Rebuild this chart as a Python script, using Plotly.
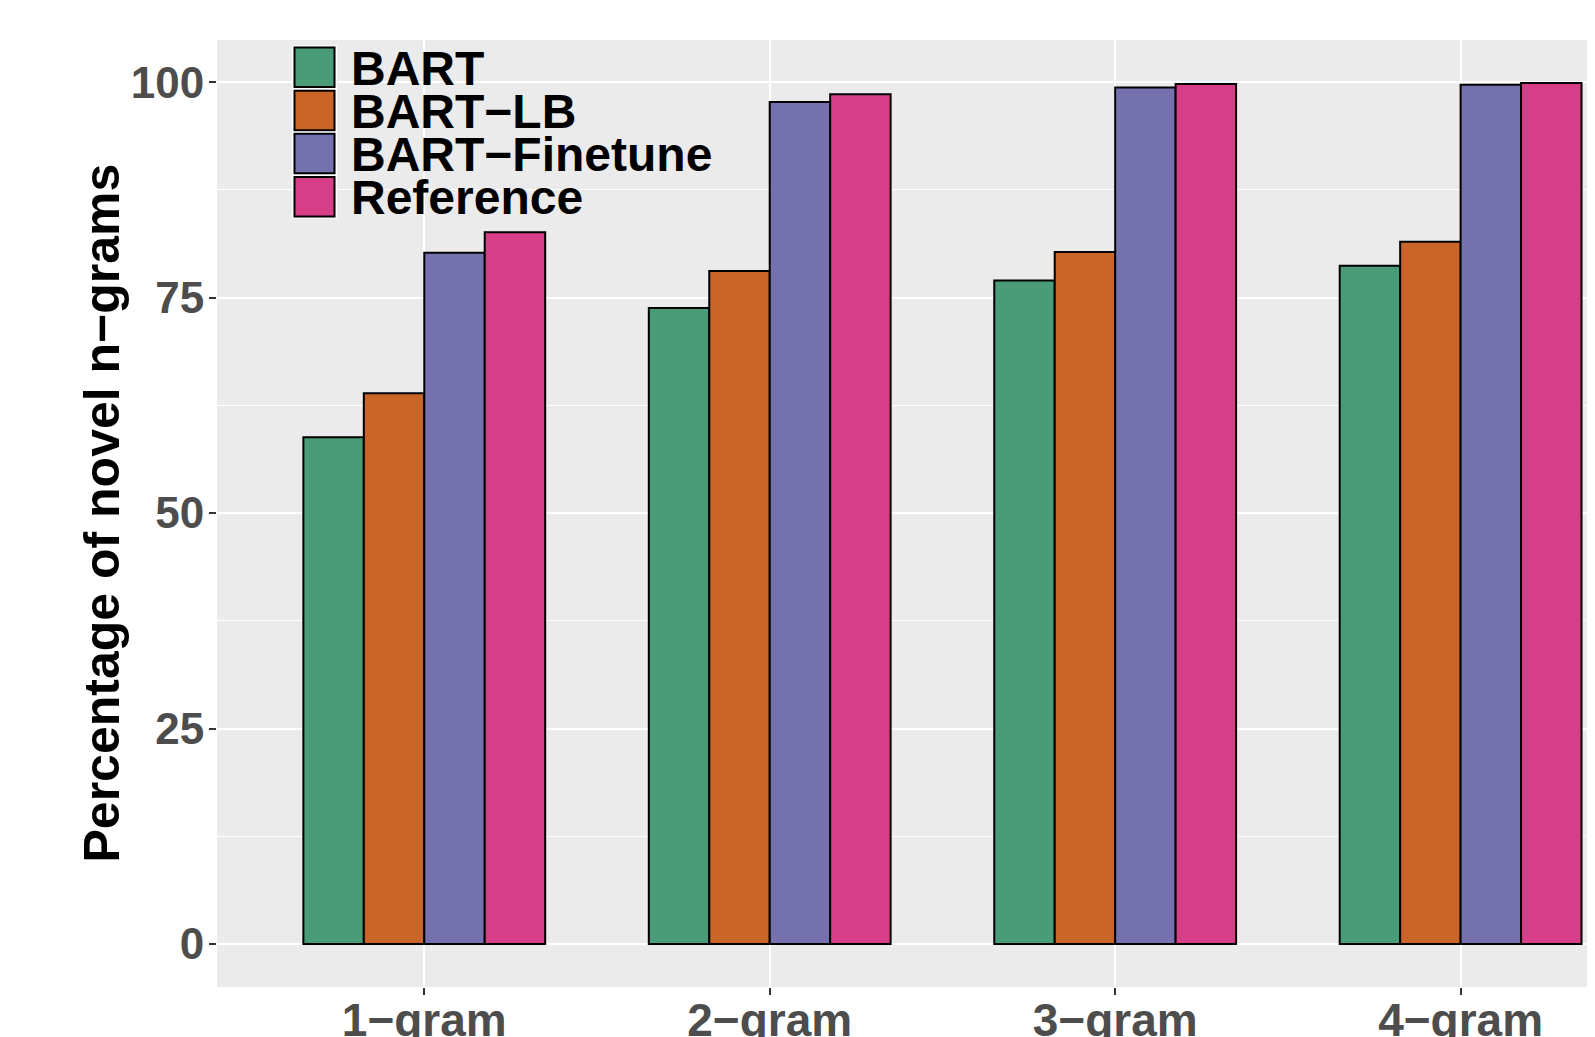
import plotly.graph_objects as go

categories = ["1−gram", "2−gram", "3−gram", "4−gram"]
series_names = ["BART", "BART−LB", "BART−Finetune", "Reference"]
bart = [58.8, 73.8, 77.0, 78.7]
bart_lb = [63.9, 78.1, 80.3, 81.5]
bart_finetune = [80.2, 97.7, 99.4, 99.7]
reference = [82.6, 98.6, 99.8, 99.9]
colors = ["#4A9B77", "#C96528", "#7571AE", "#D63F87"]
y_ticks = [0, 25, 50, 75, 100]

# The page body has an 8px margin: size the figure so it fills the window exactly.
OFF = 8
W, H = 1595 - OFF, 1037 - OFF
ML, MR, MT, MB = 217 - OFF, 0, 40 - OFF, 50
PW, PH = W - ML - MR, H - MT - MB


def px_x(x):  # page pixel -> paper
    return (x - OFF - ML) / PW


def px_y(y):  # page pixel -> paper
    return (H - MB - (y - OFF)) / PH


FONT = "Liberation Sans, Arial, Helvetica, sans-serif"

fig = go.Figure()
for name, vals, col in zip(series_names, [bart, bart_lb, bart_finetune, reference], colors):
    fig.add_trace(go.Bar(
        x=categories, y=vals, name=name,
        marker=dict(color=col, line=dict(color="black", width=2)),
        showlegend=False,
    ))

# ggplot-like legend inside the panel (tightly spaced keys)
key_tops = [47.5, 90.7, 133.8, 177.0]
key_h = 39.5
for name, col, top in zip(series_names, colors, key_tops):
    fig.add_shape(type="rect", xref="paper", yref="paper",
                  x0=px_x(292.5), x1=px_x(336.5), y0=px_y(top + key_h + 1.5), y1=px_y(top - 1.5),
                  fillcolor="#F2F2F2", line=dict(color="white", width=1.2), layer="above")
    fig.add_shape(type="rect", xref="paper", yref="paper",
                  x0=px_x(294.5), x1=px_x(334.5), y0=px_y(top + key_h), y1=px_y(top),
                  fillcolor=col, line=dict(color="black", width=2), layer="above")
    fig.add_annotation(xref="paper", yref="paper", x=px_x(349), y=px_y(top + key_h / 2 + 1),
                       text=name, showarrow=False, xanchor="left", yanchor="middle",
                       font=dict(family=FONT, size=48, color="black", weight="bold"))

# y-axis title
fig.add_annotation(xref="paper", yref="paper", x=px_x(101), y=px_y(513.5),
                   text="Percentage of novel n−grams", textangle=-90, showarrow=False,
                   xanchor="center", yanchor="middle",
                   font=dict(family=FONT, size=50, color="black", weight="bold"))

fig.update_layout(
    width=W, height=H,
    margin=dict(l=ML, r=MR, t=MT, b=MB, pad=0, autoexpand=False),
    paper_bgcolor="white", plot_bgcolor="#EBEBEB",
    barmode="group", bargap=0.3, bargroupgap=0,
    showlegend=False,
    font=dict(family=FONT),
)
fig.update_xaxes(
    type="category", range=[-0.6, 3.389], automargin=False,
    showgrid=True, gridcolor="white", gridwidth=2.2,
    ticks="outside", ticklen=7, tickwidth=1.6, tickcolor="#333333",
    ticklabelstandoff=-14,
    tickfont=dict(family=FONT, size=46, color="#4D4D4D", weight="bold"),
    showline=False, zeroline=False,
)
fig.update_yaxes(
    range=[-4.995, 104.9], tickvals=y_ticks, automargin=False,
    showgrid=True, gridcolor="white", gridwidth=2.2,
    minor=dict(dtick=12.5, tick0=0, showgrid=True, gridcolor="white", gridwidth=1.1),
    ticks="outside", ticklen=7, tickwidth=1.6, tickcolor="#333333",
    ticklabelstandoff=-4,
    tickfont=dict(family=FONT, size=44, color="#4D4D4D", weight="bold"),
    showline=False, zeroline=False,
)

fig.write_html("out.html")
